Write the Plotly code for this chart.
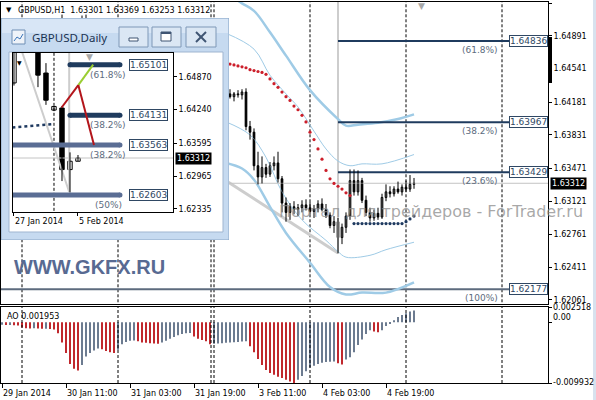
import plotly.graph_objects as go

FONT = "DejaVu Sans"
W, H = 596, 400
ML, MR, MT, MB = 1, 48, 2, 17
PW, PH = W - ML - MR, H - MT - MB


def px_x(px):
    return (px - ML) / PW


def px_y(py):
    return (H - MB - py) / PH


# ===================== DATA =====================
# GBPUSD H1, bar 0 = 29 Jan 2014 19:00
h1_open = [1.6498, 1.6500, 1.6497, 1.6494, 1.6498, 1.6501, 1.6499, 1.6496, 1.6493, 1.6497,
           1.6500, 1.6502, 1.6498, 1.6495, 1.6499, 1.6503, 1.6500, 1.6488, 1.6474, 1.6486,
           1.6499, 1.6507, 1.6501, 1.6489, 1.6482, 1.6486, 1.6473, 1.6466, 1.6470, 1.6468,
           1.6472, 1.6476, 1.6479, 1.6474, 1.6469, 1.6463, 1.6460, 1.6457, 1.6454, 1.6450,
           1.6453, 1.6458, 1.6462, 1.6464, 1.6467, 1.6463, 1.6458, 1.6455, 1.6447, 1.6441,
           1.6438, 1.6436, 1.6433, 1.6427, 1.6425, 1.6427, 1.6424, 1.6427, 1.6424, 1.6427,
           1.6426, 1.6429, 1.6392, 1.6386, 1.6350, 1.6338, 1.6348, 1.6341, 1.6350, 1.6353,
           1.6336, 1.6310, 1.6300, 1.6306, 1.6303, 1.6305, 1.6308, 1.6305, 1.6301, 1.6304,
           1.6309, 1.6303, 1.6297, 1.6286, 1.6290, 1.6273, 1.6284, 1.6296, 1.6334, 1.6322,
           1.6334, 1.6313, 1.6300, 1.6294, 1.6299, 1.6295, 1.6316, 1.6322, 1.6320, 1.6325,
           1.6322, 1.6327, 1.6325, 1.63301]
h1_high = [1.6503, 1.6505, 1.6502, 1.6500, 1.6504, 1.6506, 1.6504, 1.6501, 1.6499, 1.6503,
           1.6505, 1.6506, 1.6503, 1.6501, 1.6506, 1.6512, 1.6505, 1.6494, 1.6490, 1.6502,
           1.6511, 1.6512, 1.6504, 1.6495, 1.6490, 1.6489, 1.6480, 1.6474, 1.6477, 1.6475,
           1.6480, 1.6483, 1.6485, 1.6480, 1.6474, 1.6470, 1.6466, 1.6463, 1.6460, 1.6457,
           1.6461, 1.6466, 1.6469, 1.6471, 1.6473, 1.6468, 1.6464, 1.6460, 1.6452, 1.6448,
           1.6444, 1.6442, 1.6439, 1.6431, 1.6429, 1.6431, 1.6430, 1.6432, 1.6429, 1.6431,
           1.6432, 1.6433, 1.6398, 1.6390, 1.6365, 1.6360, 1.6352, 1.6354, 1.6360, 1.6365,
           1.6339, 1.6316, 1.6310, 1.6312, 1.6309, 1.6313, 1.6314, 1.6311, 1.6308, 1.6313,
           1.6315, 1.6309, 1.6300, 1.6296, 1.6294, 1.6288, 1.6300, 1.6346, 1.6346, 1.6345,
           1.6337, 1.6318, 1.6305, 1.6303, 1.6305, 1.6320, 1.6330, 1.6328, 1.6328, 1.6333,
           1.6330, 1.6334, 1.6340, 1.63369]
h1_low = [1.6492, 1.6494, 1.6490, 1.6488, 1.6493, 1.6495, 1.6492, 1.6489, 1.6487, 1.6491,
          1.6494, 1.6495, 1.6490, 1.6488, 1.6493, 1.6496, 1.6484, 1.6470, 1.6468, 1.6482,
          1.6495, 1.6498, 1.6485, 1.6478, 1.6474, 1.6470, 1.6462, 1.6458, 1.6463, 1.6461,
          1.6467, 1.6470, 1.6472, 1.6466, 1.6460, 1.6456, 1.6452, 1.6449, 1.6446, 1.6443,
          1.6448, 1.6452, 1.6455, 1.6458, 1.6459, 1.6454, 1.6449, 1.6444, 1.6437, 1.6434,
          1.6430, 1.6429, 1.6428, 1.6422, 1.6420, 1.6422, 1.6420, 1.6422, 1.6419, 1.6423,
          1.6421, 1.6388, 1.6378, 1.6345, 1.6330, 1.6331, 1.6337, 1.6338, 1.6345, 1.6332,
          1.6300, 1.6290, 1.6292, 1.6298, 1.6296, 1.6300, 1.6302, 1.6298, 1.6294, 1.6300,
          1.6301, 1.6294, 1.6283, 1.6278, 1.6256, 1.6266, 1.6278, 1.6292, 1.6318, 1.6318,
          1.6310, 1.6296, 1.6290, 1.6291, 1.6292, 1.6293, 1.6312, 1.6316, 1.6317, 1.6320,
          1.6318, 1.6322, 1.6322, 1.63253]
h1_close = [1.6500, 1.6497, 1.6494, 1.6498, 1.6501, 1.6499, 1.6496, 1.6493, 1.6497, 1.6500,
            1.6502, 1.6498, 1.6495, 1.6499, 1.6503, 1.6500, 1.6488, 1.6474, 1.6486, 1.6499,
            1.6507, 1.6501, 1.6489, 1.6482, 1.6486, 1.6473, 1.6466, 1.6470, 1.6468, 1.6472,
            1.6476, 1.6479, 1.6474, 1.6469, 1.6463, 1.6460, 1.6457, 1.6454, 1.6450, 1.6453,
            1.6458, 1.6462, 1.6464, 1.6467, 1.6463, 1.6458, 1.6455, 1.6447, 1.6441, 1.6438,
            1.6436, 1.6433, 1.6434, 1.6425, 1.6427, 1.6424, 1.6427, 1.6424, 1.6427, 1.6426,
            1.6429, 1.6392, 1.6386, 1.6350, 1.6338, 1.6348, 1.6341, 1.6350, 1.6353, 1.6336,
            1.6310, 1.6300, 1.6306, 1.6303, 1.6305, 1.6308, 1.6305, 1.6301, 1.6304, 1.6309,
            1.6303, 1.6297, 1.6286, 1.6290, 1.6273, 1.6284, 1.6296, 1.6334, 1.6322, 1.6334,
            1.6313, 1.6300, 1.6294, 1.6299, 1.6295, 1.6316, 1.6322, 1.6320, 1.6325, 1.6322,
            1.6327, 1.6325, 1.6330, 1.63312]
h1_bars = list(range(len(h1_open)))

tick_bars = [0, 16, 32, 48, 64, 80, 96]
tick_labels = ["29 Jan 2014", "30 Jan 11:00", "31 Jan 03:00", "31 Jan 19:00",
               "3 Feb 11:00", "4 Feb 03:00", "4 Feb 19:00"]
day_separators = [5, 29, 52.25, 53, 77, 101, 125]
price_ticks = [1.65241, 1.64891, 1.64541, 1.64181, 1.63831, 1.63471,
               1.63121, 1.62761, 1.62411, 1.62061]

# dotted stop indicator (red above price, navy below)
sar_down_bars = list(range(56, 88))
sar_down = [1.6460, 1.6459, 1.6458, 1.6457, 1.6456, 1.6455, 1.6453, 1.6452, 1.6451, 1.6450,
            1.6448, 1.6443, 1.6438, 1.6434, 1.6429, 1.6424, 1.6420, 1.6414, 1.6410, 1.6404,
            1.6397, 1.6386, 1.6378, 1.6368, 1.6357, 1.6345, 1.6336, 1.6331, 1.6328, 1.6325,
            1.6321, 1.6318]
sar_up_bars = list(range(88, 104))
sar_up = [1.6288, 1.6288, 1.6288, 1.6288, 1.6288, 1.6288, 1.6288, 1.6288, 1.6288, 1.6288,
          1.6288, 1.6288, 1.6288, 1.6290, 1.6293, 1.6296]

# channel bands
outer_up_bars = [58, 60, 63, 67, 71, 77, 84, 86, 89, 94, 99, 103]
outer_up = [1.6530, 1.6524, 1.6516, 1.6493, 1.6468, 1.6431, 1.6400, 1.6393, 1.6394, 1.6396, 1.6400, 1.6405]
inner_up_bars = [56, 63, 67, 71, 74, 78, 81, 84, 87, 90, 95, 103]
inner_up = [1.6492, 1.6475, 1.6447, 1.6427, 1.6413, 1.6387, 1.6368, 1.6355, 1.6350, 1.6352, 1.6352, 1.6362]
outer_dn_bars = [56, 60, 63, 67, 71, 77, 82, 86, 90, 96, 103]
outer_dn = [1.6353, 1.6347, 1.6335, 1.6306, 1.6278, 1.6246, 1.6220, 1.6212, 1.6214, 1.6214, 1.6225]
inner_dn_bars = [56, 62, 66, 70, 75, 81, 84, 86, 92, 96, 103]
inner_dn = [1.6397, 1.6383, 1.6359, 1.6322, 1.6292, 1.6270, 1.6258, 1.6252, 1.6254, 1.6260, 1.6268]

# Fibonacci object on H1
fib_levels = [1.64836, 1.63967, 1.63429]
fib_pcts = ["(61.8%)", "(38.2%)", "(23.6%)"]
fib_full_level = 1.62177
fib_full_pct = "(100%)"
fib_anchor_bar = 84
fib_anchor_low = 1.62565
fib_trend_bars = [50, 84]
fib_trend_prices = [1.63506, 1.62565]
bid_price = 1.63312

# Awesome Oscillator
ao_values = [-0.00040, -0.00045, -0.00042, -0.00048, -0.00050, -0.00085, -0.00095, -0.00100, -0.00098, -0.00102,
             -0.00105, -0.00103, -0.00110, -0.00115, -0.00180, -0.00330, -0.00500, -0.00680, -0.00760, -0.00790,
             -0.00700, -0.00560, -0.00500, -0.00460, -0.00430, -0.00440, -0.00470, -0.00490, -0.00500, -0.00450,
             -0.00360, -0.00320, -0.00300, -0.00295, -0.00310, -0.00330, -0.00335, -0.00340, -0.00345, -0.00350,
             -0.00330, -0.00300, -0.00270, -0.00240, -0.00210, -0.00190, -0.00180, -0.00175, -0.00230, -0.00270,
             -0.00290, -0.00310, -0.00360, -0.00350, -0.00345, -0.00340, -0.00335, -0.00330, -0.00325, -0.00320,
             -0.00315, -0.00310, -0.00390, -0.00490, -0.00600, -0.00700, -0.00780, -0.00830, -0.00860, -0.00890,
             -0.00910, -0.00940, -0.00970, -0.00993, -0.00940, -0.00880, -0.00800, -0.00740, -0.00710, -0.00680,
             -0.00660, -0.00650, -0.00645, -0.00640, -0.00670, -0.00690, -0.00610, -0.00570, -0.00490, -0.00370,
             -0.00280, -0.00190, -0.00130, -0.00150, -0.00160, -0.00130, -0.00060, -0.00020, 0.00035, 0.00090,
             0.00120, 0.00150, 0.00180, 0.001953]
ao_max, ao_min = 0.002518, -0.009932

# Daily inset: bar 0 = 27 Jan 2014
d_bars = [0, 1, 2, 3, 4, 5, 6, 7, 8]
d_open = [1.6475, 1.6575, 1.6590, 1.6560, 1.6494, 1.6423, 1.6427, 1.6309, 1.6325]
d_high = [1.6590, 1.6610, 1.6650, 1.6570, 1.6513, 1.6431, 1.6431, 1.6342, 1.63369]
d_low = [1.6470, 1.6545, 1.6540, 1.6467, 1.6433, 1.6421, 1.6287, 1.6265, 1.63253]
d_close = [1.6575, 1.6590, 1.6560, 1.6490, 1.6442, 1.6430, 1.6309, 1.6325, 1.63312]
d_tick_bars = [0, 8]
d_tick_labels = ["27 Jan 2014", "5 Feb 2014"]
d_separators = [5]
d_price_ticks = [1.64870, 1.64240, 1.63595, 1.62965, 1.62335]
d_fib_dark = [1.65101, 1.64131]
d_fib_dark_pcts = ["(61.8%)", "(38.2%)"]
d_fib_slate = [1.63563, 1.62603]
d_fib_slate_pcts = ["(38.2%)", "(50%)"]
d_fib_bars_dark = [7.0, 13.25]
d_fib_bars_slate = [-0.5, 13.25]
d_dots_bars = [-0.2, 4.9]
d_dots = [1.63898, 1.63961]
d_trend_bars = [1.0, 6.9]
d_trend = [1.6535, 1.6266]
d_anchor_bar = 6.9
d_anchor_low = 1.6266
d_proj_red1 = ([5.96, 8.04], [1.6428, 1.6471])
d_proj_green = ([8.04, 9.9], [1.6471, 1.65101])
d_proj_red2 = ([8.04, 10.0], [1.6471, 1.63563])

# ===================== STYLE =====================
FIB_DARK = "#1f3b5e"
FIB_SLATE = "#5a6d94"
FIB_TXT = "#2f4763"
PCT_TXT = "#5d6c7e"
BAND = "#9fcbe6"
GRAYLINE = "#cdcdcd"
AO_UP = "#6c7b90"
AO_DN = "#c0282d"

fig = go.Figure()


def add(tr):
    fig.add_trace(tr)


def vlines(xs, y0, y1, xa, ya, color="black", width=1, dash="3px,2px"):
    vx, vy = [], []
    for x in xs:
        vx += [x, x, None]
        vy += [y0, y1, None]
    add(go.Scatter(x=vx, y=vy, mode="lines", line=dict(color=color, width=width, dash=dash),
                   xaxis=xa, yaxis=ya, hoverinfo="skip"))


def candles(xs, o, h, l, c, width, xa, ya, min_h):
    wx, wy = [], []
    for x, hi, lo in zip(xs, h, l):
        wx += [x, x, None]
        wy += [lo, hi, None]
    add(go.Scatter(x=wx, y=wy, mode="lines", line=dict(color="black", width=1),
                   xaxis=xa, yaxis=ya, hoverinfo="skip"))
    for up in (True, False):
        sel = [k for k in range(len(xs)) if (c[k] >= o[k]) == up]
        add(go.Bar(x=[xs[k] for k in sel],
                   y=[max(abs(c[k] - o[k]), min_h) for k in sel],
                   base=[min(o[k], c[k]) for k in sel],
                   width=width,
                   marker=dict(color="white" if up else "black", line=dict(color="black", width=1)),
                   xaxis=xa, yaxis=ya, hoverinfo="skip"))


# ---------------- main H1 chart (x / y) ----------------
vlines(day_separators, 1.60, 1.67, "x", "y")
add(go.Scatter(x=[-1, 140], y=[fib_full_level] * 2, mode="lines",
               line=dict(color="#5d6b7e", width=2), xaxis="x", yaxis="y", hoverinfo="skip"))
add(go.Scatter(x=fib_trend_bars, y=fib_trend_prices, mode="lines",
               line=dict(color=GRAYLINE, width=3), xaxis="x", yaxis="y", hoverinfo="skip"))
add(go.Scatter(x=[fib_anchor_bar] * 2, y=[1.67, fib_anchor_low], mode="lines",
               line=dict(color=GRAYLINE, width=2), xaxis="x", yaxis="y", hoverinfo="skip"))
for bx, by, wd in [(outer_up_bars, outer_up, 2.5), (inner_up_bars, inner_up, 1),
                   (outer_dn_bars, outer_dn, 2.5), (inner_dn_bars, inner_dn, 1)]:
    add(go.Scatter(x=bx, y=by, mode="lines", line=dict(color=BAND, width=wd, shape="spline"),
                   xaxis="x", yaxis="y", hoverinfo="skip"))
add(go.Scatter(x=[-1, 140], y=[bid_price] * 2, mode="lines",
               line=dict(color="#c4c4c4", width=1), xaxis="x", yaxis="y", hoverinfo="skip"))
for lv in fib_levels:
    add(go.Scatter(x=[fib_anchor_bar, 140], y=[lv, lv], mode="lines",
                   line=dict(color=FIB_DARK, width=2), xaxis="x", yaxis="y", hoverinfo="skip"))
candles(h1_bars, h1_open, h1_high, h1_low, h1_close, 0.42, "x", "y", 0.00003)
add(go.Scatter(x=sar_down_bars, y=sar_down, mode="markers",
               marker=dict(color="#cc1f2b", size=3.2), xaxis="x", yaxis="y", hoverinfo="skip"))
add(go.Scatter(x=sar_up_bars, y=sar_up, mode="markers",
               marker=dict(color="#1f3a60", size=3.2), xaxis="x", yaxis="y", hoverinfo="skip"))

# ---------------- inset window chrome (x2 / y2, pixel units) ----------------
def rect(x0, y0, x1, y1, fill, line=None, lw=1):
    add(go.Scatter(x=[x0, x1, x1, x0, x0], y=[y0, y0, y1, y1, y0], mode="lines",
                   fill="toself", fillcolor=fill,
                   line=dict(color=line or fill, width=lw if line else 0),
                   xaxis="x2", yaxis="y2", hoverinfo="skip"))


rect(1, 18, 229, 240, "#c6daf0", "#8aa6c6")
rect(2, 19, 228, 33, "#d8e6f6")
rect(9, 52, 223, 232, "white", "#9fb5d0")
for bx0, bx1 in [(119, 148), (152, 181), (186, 216)]:
    rect(bx0, 27, bx1, 47, "#dbe7f4", "#7f98b7")
rect(129, 38, 138, 41, "white", "#3f5573")
rect(161, 32, 171, 41, "white", "#3f5573")
add(go.Scatter(x=[161, 171], y=[33, 33], mode="lines", line=dict(color="#3f5573", width=2),
               xaxis="x2", yaxis="y2", hoverinfo="skip"))
add(go.Scatter(x=[196, 206, None, 196, 206], y=[32, 42, None, 42, 32], mode="lines",
               line=dict(color="#3f5573", width=2), xaxis="x2", yaxis="y2", hoverinfo="skip"))
rect(12, 30, 25, 44, "#eef3f9", "#6f8fb5")
add(go.Scatter(x=[14, 17, 20, 23], y=[41, 37, 39, 34], mode="lines", line=dict(color="#3a74b8", width=1),
               xaxis="x2", yaxis="y2", hoverinfo="skip"))

# ---------------- inset daily chart (x3 / y3) ----------------
vlines(d_separators, 1.60, 1.67, "x3", "y3")
add(go.Scatter(x=[-1, 30], y=[bid_price] * 2, mode="lines",
               line=dict(color="#c4c4c4", width=1), xaxis="x3", yaxis="y3", hoverinfo="skip"))
add(go.Scatter(x=d_trend_bars, y=d_trend, mode="lines", line=dict(color=GRAYLINE, width=2),
               xaxis="x3", yaxis="y3", hoverinfo="skip"))
add(go.Scatter(x=[d_anchor_bar] * 2, y=[1.66, d_anchor_low], mode="lines",
               line=dict(color=GRAYLINE, width=2), xaxis="x3", yaxis="y3", hoverinfo="skip"))
add(go.Scatter(x=d_dots_bars, y=d_dots, mode="lines", line=dict(color="#1f3a60", width=2.5, dash="dot"),
               xaxis="x3", yaxis="y3", hoverinfo="skip"))
candles(d_bars, d_open, d_high, d_low, d_close, 0.55, "x3", "y3", 0.00005)
for lv in d_fib_slate:
    add(go.Scatter(x=d_fib_bars_slate, y=[lv, lv], mode="lines+markers",
                   line=dict(color=FIB_SLATE, width=5), marker=dict(color=FIB_SLATE, size=5),
                   xaxis="x3", yaxis="y3", hoverinfo="skip"))
for lv in d_fib_dark:
    add(go.Scatter(x=d_fib_bars_dark, y=[lv, lv], mode="lines+markers",
                   line=dict(color=FIB_DARK, width=5), marker=dict(color=FIB_DARK, size=5),
                   xaxis="x3", yaxis="y3", hoverinfo="skip"))
for (px_, py_), col in [(d_proj_red1, "#b3151b"), (d_proj_green, "#9acd32"), (d_proj_red2, "#b3151b")]:
    add(go.Scatter(x=px_, y=py_, mode="lines", line=dict(color=col, width=2),
                   xaxis="x3", yaxis="y3", hoverinfo="skip"))

# ---------------- AO panel (x4 / y4) ----------------
vlines(day_separators, -1, 1, "x4", "y4")
ao_colors = [AO_UP if k == 0 or ao_values[k] >= ao_values[k - 1] else AO_DN for k in range(len(ao_values))]
add(go.Bar(x=h1_bars, y=ao_values, width=0.3, marker=dict(color=ao_colors, line=dict(width=0)),
           xaxis="x4", yaxis="y4", hoverinfo="skip"))

# ===================== LAYOUT =====================
axis_common = dict(showline=True, linecolor="black", linewidth=1, mirror=True, showgrid=False,
                   zeroline=False, fixedrange=True)
tickfont = dict(family=FONT, size=8, color="black")
x_range = [-0.25, 136.5]

fig.update_layout(
    width=W, height=H, margin=dict(l=ML, r=MR, t=MT, b=MB),
    paper_bgcolor="white", plot_bgcolor="white", showlegend=False, hovermode=False,
    barmode="overlay",
    xaxis=dict(domain=[0, 1], range=x_range, anchor="y", ticks="", showticklabels=False, **axis_common),
    yaxis=dict(domain=[px_y(304), 1], range=[1.62018, 1.65255], side="right", anchor="x",
               tickvals=price_ticks, ticktext=[f"{p:.5f}" for p in price_ticks],
               ticks="outside", ticklen=3, tickcolor="black", tickfont=tickfont, **axis_common),
    xaxis2=dict(domain=[0, px_x(229)], range=[1, 229], anchor="y2", visible=False, fixedrange=True),
    yaxis2=dict(domain=[px_y(240), px_y(18)], range=[240, 18], anchor="x2", visible=False, fixedrange=True),
    xaxis3=dict(domain=[px_x(12.7), px_x(173)], range=[-0.16, 19.875], anchor="y3",
                tickvals=d_tick_bars, ticks="outside", ticklen=3, tickcolor="black",
                showticklabels=False, **axis_common),
    yaxis3=dict(domain=[px_y(211.7), px_y(53)], range=[1.62283, 1.65324], side="right", anchor="x3",
                tickvals=d_price_ticks, ticktext=[f"{p:.5f}" for p in d_price_ticks],
                ticks="outside", ticklen=3, tickcolor="black", tickfont=tickfont, **axis_common),
    xaxis4=dict(domain=[0, 1], range=x_range, anchor="y4", tickvals=tick_bars, ticks="outside",
                ticklen=4, tickcolor="black", showticklabels=False, **axis_common),
    yaxis4=dict(domain=[0, px_y(307)], range=[ao_min, ao_max], side="right", anchor="x4",
                tickvals=[ao_max, 0, ao_min], ticks="outside", ticklen=3, tickcolor="black",
                showticklabels=False, **axis_common),
)

ann = []


def A(**kw):
    base = dict(showarrow=False, font=dict(family=FONT, size=8, color="black"))
    base.update(kw)
    ann.append(base)


# header
A(xref="paper", yref="paper", x=px_x(4), y=px_y(10), xanchor="left", yanchor="middle",
  text="▼", font=dict(family=FONT, size=7, color="black"))
A(xref="paper", yref="paper", x=px_x(16), y=px_y(10), xanchor="left", yanchor="middle",
  text="GBPUSD,H1\u00a0\u00a0" + " ".join(f"{v:.5f}" for v in
                                          (h1_open[-1], h1_high[-1], h1_low[-1], h1_close[-1])))
A(xref="x", yref="y domain", x=104.75, y=1, yshift=3, xanchor="center", yanchor="top",
  text="▼", font=dict(family=FONT, size=9, color="#a8a8a8"))

# fib labels (main)
for lv, pc in list(zip(fib_levels, fib_pcts)) + [(fib_full_level, fib_full_pct)]:
    A(xref="x domain", yref="y", x=1, y=lv, xanchor="right", yanchor="middle",
      text=f"{lv:.5f}", bgcolor="white", bordercolor=FIB_TXT, borderwidth=1, borderpad=0,
      font=dict(family=FONT, size=9, color=FIB_TXT))
    A(xref="x", yref="y", x=124.5, y=lv, xanchor="right", yanchor="top", yshift=-2,
      text=pc, font=dict(family=FONT, size=9, color=PCT_TXT))

# bid label main
A(xref="x domain", yref="y", x=1, y=bid_price, xanchor="left", yanchor="middle", xshift=2,
  text=f"{bid_price:.5f}", bgcolor="black", borderpad=1, font=dict(family=FONT, size=8, color="white"))

# watermarks
A(xref="paper", yref="paper", x=px_x(431), y=px_y(211), xanchor="center", yanchor="middle",
  text="Портал для трейдеров - ForTrader.ru",
  font=dict(family=FONT, size=16, color="rgba(140,140,140,0.75)"))
A(xref="paper", yref="paper", x=px_x(12), y=px_y(267), xanchor="left", yanchor="middle",
  text="<b>WWW.GKFX.RU</b>", font=dict(family="Liberation Sans", size=20, color="#586a92"))

# AO labels
A(xref="paper", yref="paper", x=px_x(5), y=px_y(316), xanchor="left", yanchor="middle",
  text=f"AO {ao_values[-1]:.6f}")
for v, txt, ys in [(ao_max, f"{ao_max:.6f}", -0.5), (0, "0.00", 5), (ao_min, f"{ao_min:.6f}", 1)]:
    A(xref="paper", yref="y4", x=1, y=v, xanchor="left", yanchor="middle", xshift=4, yshift=ys,
      text=txt, borderpad=0)

# x tick labels
for b, t in zip(tick_bars, tick_labels):
    A(xref="x4", yref="paper", x=b, y=px_y(393.5), xanchor="left", yanchor="middle", xshift=-1, text=t)

# inset window chrome texts
A(xref="x2", yref="y2", x=30, y=37, xanchor="left", yanchor="middle", text="GBPUSD,Daily",
  font=dict(family="Noto Sans", size=11.5, color="#1b3352"))

# inset labels
for lv, pc in list(zip(d_fib_dark, d_fib_dark_pcts)) + list(zip(d_fib_slate, d_fib_slate_pcts)):
    A(xref="x3", yref="y3", x=14.375, y=lv, xanchor="left", yanchor="middle",
      text=f"{lv:.5f}", bgcolor="white", bordercolor=FIB_TXT, borderwidth=1, borderpad=0,
      font=dict(family=FONT, size=9, color=FIB_TXT))
    A(xref="x3", yref="y3", x=11.8, y=lv, xanchor="center", yanchor="top", yshift=-3,
      text=pc, font=dict(family=FONT, size=9, color=PCT_TXT))
A(xref="x3 domain", yref="y3", x=1, y=bid_price, xanchor="left", yanchor="middle", xshift=2,
  text=f"{bid_price:.5f}", bgcolor="black", borderpad=1, font=dict(family=FONT, size=8, color="white"))
for b, t in zip(d_tick_bars, d_tick_labels):
    A(xref="x3", yref="paper", x=b, y=px_y(221), xanchor="left", yanchor="middle", xshift=-1, text=t)
A(xref="x3", yref="y3 domain", x=9.5, y=1, yshift=3, xanchor="center", yanchor="top",
  text="▼", font=dict(family=FONT, size=9, color="#a8a8a8"))
A(xref="x3", yref="y3", x=0.75, y=1.6515, xanchor="center", yanchor="middle",
  text="▼", font=dict(family=FONT, size=6, color="black"))

fig.update_layout(annotations=ann)

fig.update_layout(shapes=[
    dict(type="rect", xref="paper", yref="paper", x0=px_x(549), x1=px_x(552),
         y0=px_y(83), y1=px_y(37), fillcolor="black", line=dict(width=0), layer="above"),
    dict(type="rect", xref="paper", yref="paper", x0=px_x(593), x1=px_x(597),
         y0=px_y(401), y1=px_y(-1), fillcolor="#d8e2ee", line=dict(width=0), layer="below"),
])

fig.write_html("out.html", include_plotlyjs=True, config={"displayModeBar": False},
               post_script="document.body.style.margin='0';document.body.style.padding='0';")
